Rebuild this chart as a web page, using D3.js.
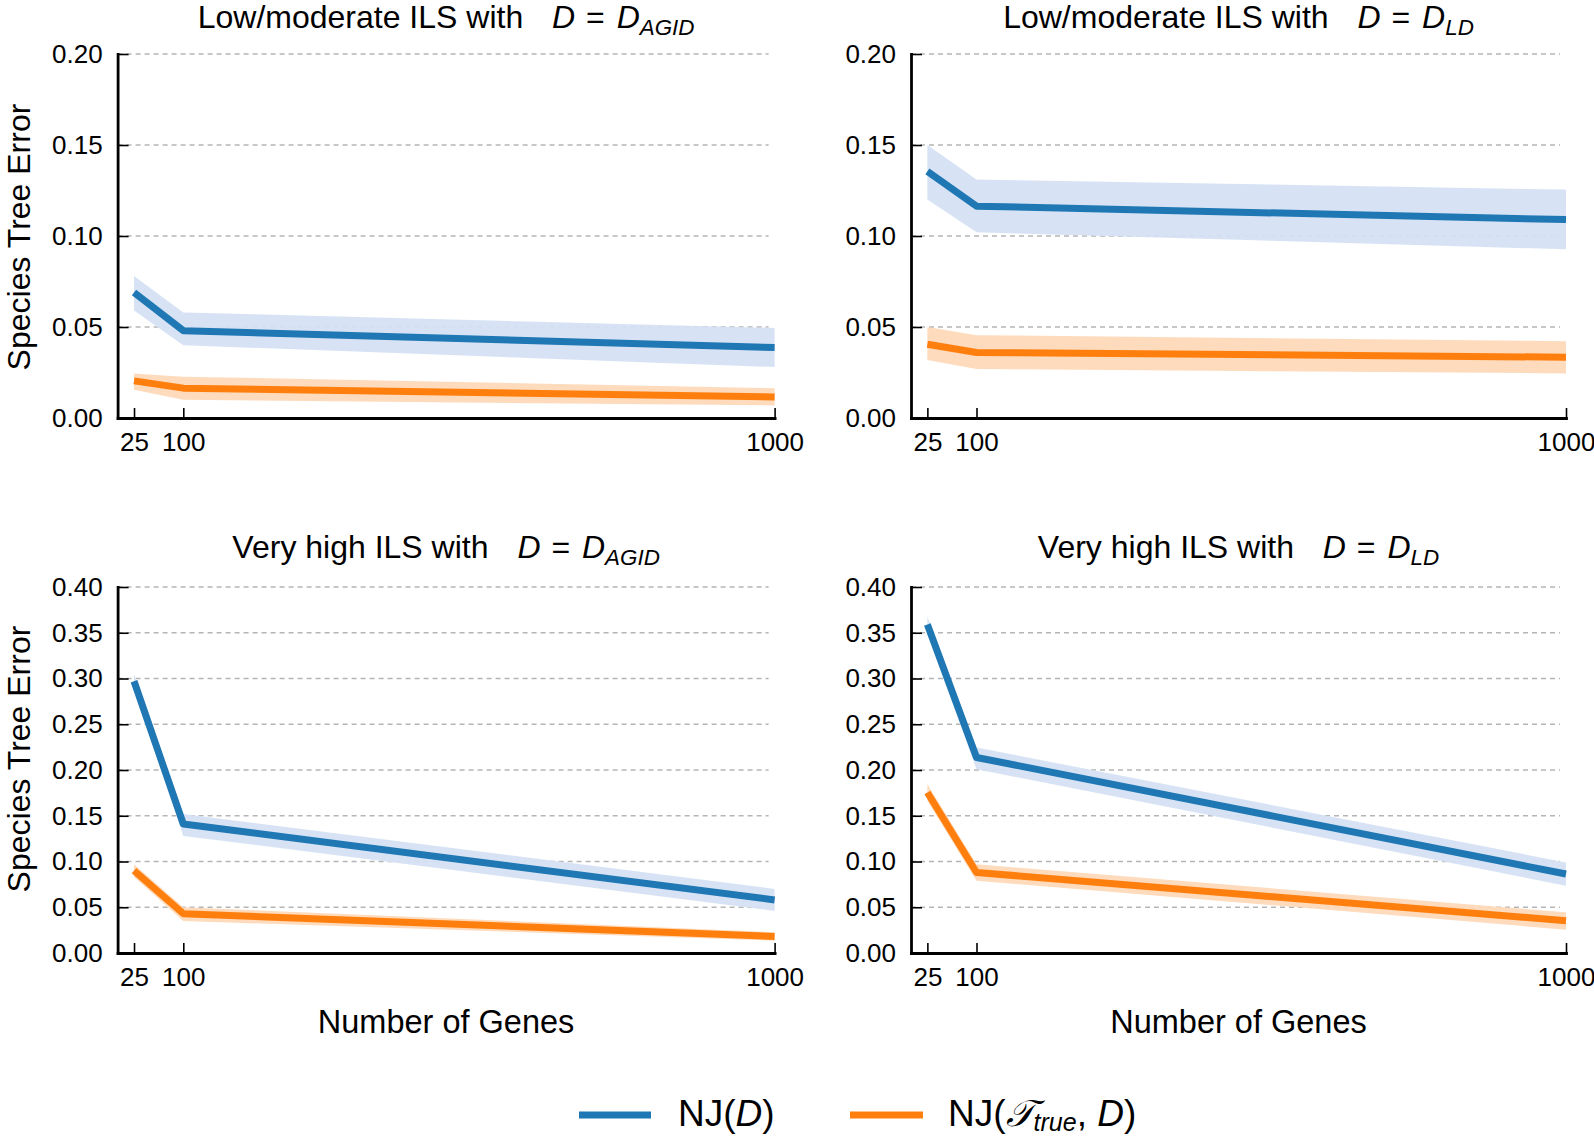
<!DOCTYPE html>
<html>
<head>
<meta charset="utf-8">
<script src="https://cdn.jsdelivr.net/npm/d3@7"></script>
<style>
  html, body { margin: 0; padding: 0; background: #fff; }
  svg { display: block; font-family: "Liberation Sans", Arial, Helvetica, sans-serif; }
</style>
</head>
<body>
<svg id="chart" width="1594" height="1137"></svg>
<script>
// ---------------- data ----------------
const genes = [25, 100, 1000];
const xTickValues = [25, 100, 1000];
const yTicksLow = [0, 0.05, 0.10, 0.15, 0.20];
const yTicksHigh = [0, 0.05, 0.10, 0.15, 0.20, 0.25, 0.30, 0.35, 0.40];

const panelTitles = ["Low/moderate ILS with", "Low/moderate ILS with", "Very high ILS with", "Very high ILS with"];
const panelSubscripts = ["AGID", "LD", "AGID", "LD"];

// Low/moderate ILS, D = D_AGID
const lowAgidNJ     = [0.069, 0.048, 0.0387];
const lowAgidNJLo   = [0.059, 0.040, 0.028];
const lowAgidNJHi   = [0.078, 0.058, 0.0495];
const lowAgidTrue   = [0.0204, 0.0164, 0.0116];
const lowAgidTrueLo = [0.0155, 0.0100, 0.0069];
const lowAgidTrueHi = [0.0245, 0.0227, 0.0164];

// Low/moderate ILS, D = D_LD
const lowLdNJ     = [0.1355, 0.1164, 0.109];
const lowLdNJLo   = [0.120, 0.102, 0.0927];
const lowLdNJHi   = [0.150, 0.131, 0.1255];
const lowLdTrue   = [0.0405, 0.036, 0.0334];
const lowLdTrueLo = [0.0318, 0.0269, 0.0245];
const lowLdTrueHi = [0.050, 0.0455, 0.0422];

// Very high ILS, D = D_AGID
const highAgidNJ     = [0.297, 0.141, 0.058];
const highAgidNJLo   = [0.288, 0.128, 0.046];
const highAgidNJHi   = [0.305, 0.152, 0.070];
const highAgidTrue   = [0.090, 0.043, 0.018];
const highAgidTrueLo = [0.083, 0.035, 0.0135];
const highAgidTrueHi = [0.097, 0.050, 0.0226];

// Very high ILS, D = D_LD
const highLdNJ     = [0.359, 0.2137, 0.0863];
const highLdNJLo   = [0.350, 0.2009, 0.0735];
const highLdNJHi   = [0.368, 0.2246, 0.099];
const highLdTrue   = [0.1754, 0.088, 0.0353];
const highLdTrueLo = [0.1663, 0.079, 0.0255];
const highLdTrueHi = [0.1845, 0.097, 0.0444];

// ---------------- layout / style ----------------
const COLORS = { nj: "#1f77b4", tru: "#ff7f0e" };
const BANDS  = { nj: "#d5e2f3", tru: "#fed9b8" };
const FONT = "'Liberation Sans', Arial, Helvetica, sans-serif";

const panels = [
  { title: panelTitles[0], sub: panelSubscripts[0], yMax: 0.20, ticks: yTicksLow,
    xr: [117.6, 774.6], yr: [418, 54], titleY: 28, yLabelY: 237, xLabel: false,
    nj: [lowAgidNJ, lowAgidNJLo, lowAgidNJHi], tru: [lowAgidTrue, lowAgidTrueLo, lowAgidTrueHi] },
  { title: panelTitles[1], sub: panelSubscripts[1], yMax: 0.20, ticks: yTicksLow,
    xr: [911, 1566], yr: [418, 54], titleY: 28, yLabelY: null, xLabel: false,
    nj: [lowLdNJ, lowLdNJLo, lowLdNJHi], tru: [lowLdTrue, lowLdTrueLo, lowLdTrueHi] },
  { title: panelTitles[2], sub: panelSubscripts[2], yMax: 0.40, ticks: yTicksHigh,
    xr: [117.6, 774.6], yr: [953, 587], titleY: 558, yLabelY: 759, xLabel: true,
    nj: [highAgidNJ, highAgidNJLo, highAgidNJHi], tru: [highAgidTrue, highAgidTrueLo, highAgidTrueHi] },
  { title: panelTitles[3], sub: panelSubscripts[3], yMax: 0.40, ticks: yTicksHigh,
    xr: [911, 1566], yr: [953, 587], titleY: 558, yLabelY: null, xLabel: true,
    nj: [highLdNJ, highLdNJLo, highLdNJHi], tru: [highLdTrue, highLdTrueLo, highLdTrueHi] }
];

const svg = d3.select("#chart");
svg.append("rect").attr("width", 1594).attr("height", 1137).attr("fill", "#fff");

panels.forEach(p => {
  const x = d3.scaleLinear().domain([0, 1000]).range(p.xr);
  const y = d3.scaleLinear().domain([0, p.yMax]).range(p.yr);
  const g = svg.append("g");

  // grid
  g.append("g").selectAll("line")
    .data(p.ticks.filter(t => t > 0))
    .join("line")
    .attr("x1", p.xr[0]).attr("x2", p.xr[1] - 6)
    .attr("y1", d => y(d)).attr("y2", d => y(d))
    .attr("stroke", "#b5b5b5").attr("stroke-width", 1.4)
    .attr("stroke-dasharray", "5,4");

  const rows = key => genes.map((gv, i) => ({ g: gv, m: p[key][0][i], lo: p[key][1][i], hi: p[key][2][i] }));
  const area = d3.area().x(d => x(d.g)).y0(d => y(d.lo)).y1(d => y(d.hi));
  const line = d3.line().x(d => x(d.g)).y(d => y(d.m));

  ["nj", "tru"].forEach(k => {
    g.append("path").datum(rows(k)).attr("d", area).attr("fill", BANDS[k]).attr("fill-opacity", 0.95);
  });
  ["nj", "tru"].forEach(k => {
    g.append("path").datum(rows(k)).attr("d", line)
      .attr("fill", "none").attr("stroke", COLORS[k]).attr("stroke-width", 7)
      .attr("stroke-linejoin", "round").attr("stroke-linecap", "butt");
  });

  // axes
  const yAxis = d3.axisLeft(y).tickValues(p.ticks).tickFormat(d3.format(".2f"))
    .tickSizeInner(-11).tickSizeOuter(0).tickPadding(15);
  const ya = g.append("g").attr("transform", `translate(${p.xr[0]},0)`).call(yAxis);
  const xAxis = d3.axisBottom(x).tickValues(xTickValues).tickFormat(d3.format("d"))
    .tickSizeInner(-10).tickSizeOuter(0).tickPadding(15);
  const xa = g.append("g").attr("transform", `translate(0,${p.yr[0]})`).call(xAxis);
  [ya, xa].forEach(a => {
    a.select(".domain").attr("stroke", "#000").attr("stroke-width", 2.8).attr("stroke-linecap", "square");
    a.selectAll(".tick line").attr("stroke", "#000").attr("stroke-width", 1.6);
    a.selectAll(".tick text").attr("fill", "#000").style("font-family", FONT).style("font-size", "26px");
  });

  // title
  const cx = (p.xr[0] + p.xr[1]) / 2;
  const t = g.append("text").attr("x", cx).attr("y", p.titleY)
    .attr("text-anchor", "middle").style("font-family", FONT).style("font-size", "32px").attr("fill", "#000");
  t.append("tspan").text(p.title + " ");
  t.append("tspan").attr("dx", 20).style("font-style", "italic").text("D");
  t.append("tspan").attr("dx", 2).text(" = ");
  t.append("tspan").attr("dx", 3).style("font-style", "italic").text("D");
  t.append("tspan").attr("dy", 7).style("font-style", "italic").style("font-size", "22.4px").text(p.sub);

  if (p.yLabelY !== null) {
    g.append("text").attr("transform", `translate(29.5,${p.yLabelY}) rotate(-90)`)
      .attr("text-anchor", "middle").style("font-family", FONT).style("font-size", "32px")
      .attr("fill", "#000").text("Species Tree Error");
  }
  if (p.xLabel) {
    g.append("text").attr("x", cx).attr("y", 1033)
      .attr("text-anchor", "middle").style("font-family", FONT).style("font-size", "32.5px")
      .attr("fill", "#000").text("Number of Genes");
  }
});

// legend
const leg = svg.append("g");
const legendItems = [
  { key: "nj", x1: 579, x2: 651, tx: 678 },
  { key: "tru", x1: 850, x2: 923, tx: 948 }
];
leg.selectAll("line").data(legendItems).join("line")
  .attr("x1", d => d.x1).attr("x2", d => d.x2)
  .attr("y1", 1115).attr("y2", 1115)
  .attr("stroke", d => COLORS[d.key]).attr("stroke-width", 7);

const t1 = leg.append("text").attr("x", legendItems[0].tx).attr("y", 1126)
  .style("font-family", FONT).style("font-size", "37px").attr("fill", "#000");
t1.append("tspan").text("NJ(");
t1.append("tspan").style("font-style", "italic").text("D");
t1.append("tspan").text(")");

const t2 = leg.append("text").attr("x", legendItems[1].tx).attr("y", 1126)
  .style("font-family", FONT).style("font-size", "37px").attr("fill", "#000");
t2.append("tspan").text("NJ(");
t2.append("tspan").style("font-family", "'DejaVu Serif', 'DejaVu Sans', serif").style("font-style", "italic").text("\u{1D4AF}");
t2.append("tspan").attr("dy", 5).style("font-style", "italic").style("font-size", "25px").text("true");
t2.append("tspan").attr("dy", -5).text(", ");
t2.append("tspan").style("font-style", "italic").text("D");
t2.append("tspan").text(")");
</script>
</body>
</html>
